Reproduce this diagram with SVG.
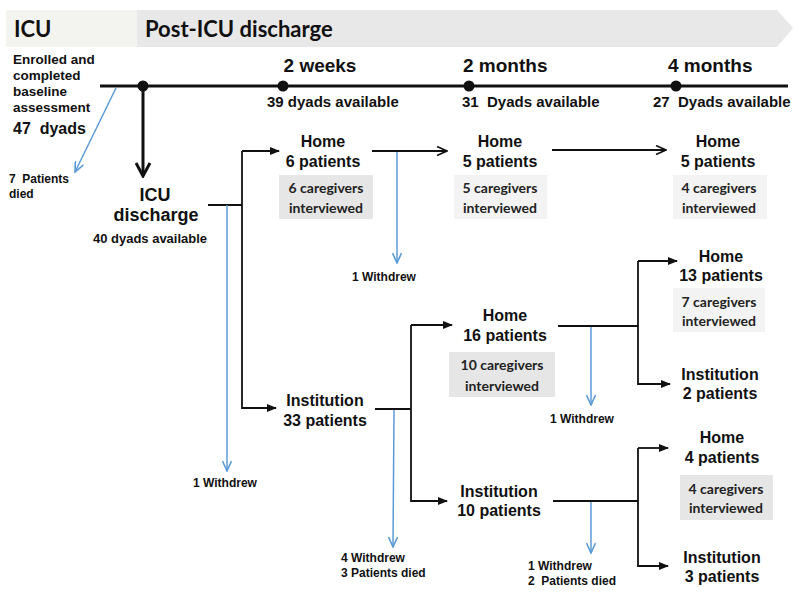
<svg xmlns="http://www.w3.org/2000/svg" width="800" height="601" viewBox="0 0 800 601">
<defs>
<marker id="tri" markerWidth="10" markerHeight="8" refX="9" refY="4" orient="auto" markerUnits="userSpaceOnUse">
<path d="M0,0 L10,4 L0,8 z" fill="#111"/>
</marker>
<marker id="vee" markerWidth="12" markerHeight="10" refX="11" refY="5" orient="auto" markerUnits="userSpaceOnUse">
<path d="M1,0.5 L11,5 L1,9.5" fill="none" stroke="#111" stroke-width="1.6"/>
</marker>
<marker id="bvee" markerWidth="12" markerHeight="10" refX="11" refY="5" orient="auto" markerUnits="userSpaceOnUse">
<path d="M1,0.5 L11,5 L1,9.5" fill="none" stroke="#5b9bd5" stroke-width="1.6"/>
</marker>
<marker id="big" markerWidth="16" markerHeight="16" refX="14" refY="8" orient="auto" markerUnits="userSpaceOnUse">
<path d="M1,1 L14,8 L1,15" fill="none" stroke="#111" stroke-width="3"/>
</marker>
</defs>
<style>
text{font-family:"Liberation Sans",Arial,sans-serif;font-weight:bold;fill:#111}
.cal{font-family:Lato,"Open Sans",sans-serif}
.n{font-size:16px;text-anchor:middle}
.s{font-size:12px}
.cg{font-family:Lato,"Open Sans",sans-serif;font-size:14px;text-anchor:middle;fill:#222}
.box{fill:#e6e6e6}
.lt{fill:#f3f3f3}
.k{stroke:#111;stroke-width:1.8;fill:none}
.b{stroke:#5b9bd5;stroke-width:1.5;fill:none}
</style>
<rect width="800" height="601" fill="#fff"/>
<g id="header">
<rect x="6" y="10" width="131" height="37" fill="#f3f3ef"/>
<path d="M137,10 L777,10 L793,28 L777,47 L137,47 z" fill="#e8e8e8"/>
<text class="cal" x="14" y="37" font-size="22">ICU</text>
<text class="cal" x="145" y="37" font-size="22">Post-ICU discharge</text>
</g>
<g id="timeline">
<line x1="100" y1="86" x2="788" y2="86" stroke="#111" stroke-width="3"/>
<circle cx="143" cy="86" r="5.5" fill="#111"/>
<circle cx="283" cy="86" r="5.5" fill="#111"/>
<circle cx="469" cy="86" r="5.5" fill="#111"/>
<circle cx="676" cy="86" r="5.5" fill="#111"/>
<text x="320" y="72" font-size="19" text-anchor="middle">2 weeks</text>
<text x="267" y="107" font-size="15">39 dyads available</text>
<text x="463" y="72" font-size="19">2 months</text>
<text x="462" y="107" font-size="15" xml:space="preserve">31  Dyads available</text>
<text x="668" y="72" font-size="19">4 months</text>
<text x="653" y="107" font-size="15" xml:space="preserve">27  Dyads available</text>
</g>
<g id="baseline">
<text x="13" y="64" font-size="13.5">Enrolled and</text>
<text x="13" y="80" font-size="13.5">completed</text>
<text x="13" y="96" font-size="13.5">baseline</text>
<text x="13" y="112" font-size="13.5">assessment</text>
<text x="13" y="134" font-size="16" xml:space="preserve">47  dyads</text>
</g>
<g id="died0">
<text class="s" x="9" y="183" xml:space="preserve">7  Patients</text>
<text class="s" x="9" y="198">died</text>
</g>
<g id="icu-discharge">
<text x="155" y="201" font-size="18" text-anchor="middle">ICU</text>
<text x="156" y="221" font-size="18" text-anchor="middle">discharge</text>
<text x="150" y="243" font-size="13" text-anchor="middle">40 dyads available</text>
</g>
<g id="home6">
<text class="n" x="323" y="147">Home</text>
<text class="n" x="323" y="167">6 patients</text>
<rect class="box" x="279" y="175" width="94" height="44"/>
<text class="cg" x="326" y="193">6 caregivers</text>
<text class="cg" x="326" y="213">interviewed</text>
</g>
<g id="withdrew1">
<text class="s" x="193" y="487">1 Withdrew</text>
</g>
<g id="withdrew2">
<text class="s" x="352" y="281">1 Withdrew</text>
</g>
<g id="home5a">
<text class="n" x="500" y="147">Home</text>
<text class="n" x="500" y="167">5 patients</text>
<rect class="lt" x="454" y="175" width="93" height="44"/>
<text class="cg" x="500" y="193">5 caregivers</text>
<text class="cg" x="500" y="213">interviewed</text>
</g>
<g id="home5b">
<text class="n" x="718" y="147">Home</text>
<text class="n" x="718" y="167">5 patients</text>
<rect class="lt" x="673" y="175" width="94" height="44"/>
<text class="cg" x="719" y="193">4 caregivers</text>
<text class="cg" x="719" y="213">interviewed</text>
</g>
<g id="inst33">
<text class="n" x="325" y="406">Institution</text>
<text class="n" x="325" y="426">33 patients</text>
</g>
<g id="withdrew3">
<text class="s" x="341" y="562">4 Withdrew</text>
<text class="s" x="341" y="577">3 Patients died</text>
</g>
<g id="home16">
<text class="n" x="505" y="321">Home</text>
<text class="n" x="505" y="341">16 patients</text>
<rect class="box" x="449" y="352" width="106" height="45"/>
<text class="cg" x="502" y="370">10 caregivers</text>
<text class="cg" x="502" y="391">interviewed</text>
</g>
<g id="withdrew4">
<text class="s" x="550" y="423">1 Withdrew</text>
</g>
<g id="inst10">
<text class="n" x="499" y="497">Institution</text>
<text class="n" x="499" y="516">10 patients</text>
</g>
<g id="withdrew5">
<text class="s" x="528" y="570">1 Withdrew</text>
<text class="s" x="528" y="585" xml:space="preserve">2  Patients died</text>
</g>
<g id="home13">
<text class="n" x="721" y="262">Home</text>
<text class="n" x="721" y="281">13 patients</text>
<rect class="lt" x="673" y="288" width="92" height="44"/>
<text class="cg" x="719" y="307">7 caregivers</text>
<text class="cg" x="719" y="326">interviewed</text>
</g>
<g id="inst2">
<text class="n" x="720" y="380">Institution</text>
<text class="n" x="720" y="399">2 patients</text>
</g>
<g id="home4">
<text class="n" x="722" y="443">Home</text>
<text class="n" x="722" y="463">4 patients</text>
<rect class="box" x="680" y="475" width="93" height="45"/>
<text class="cg" x="726" y="494">4 caregivers</text>
<text class="cg" x="726" y="513">interviewed</text>
</g>
<g id="inst3">
<text class="n" x="722" y="563">Institution</text>
<text class="n" x="722" y="582">3 patients</text>
</g>
<g id="connectors">
<line class="b" x1="116" y1="88" x2="75" y2="172" marker-end="url(#bvee)"/>
<line x1="143" y1="88" x2="143" y2="176" stroke="#111" stroke-width="3" marker-end="url(#big)"/>
<path class="k" d="M208,205 H242"/>
<path class="k" d="M242,151 V408 H276" marker-end="url(#tri)"/>
<path class="k" d="M242,151 H279" marker-end="url(#tri)"/>
<line class="b" x1="227" y1="205" x2="227" y2="471" marker-end="url(#bvee)"/>
<line class="k" x1="372" y1="151" x2="447" y2="151" marker-end="url(#vee)"/>
<line class="b" x1="397" y1="152" x2="397" y2="263" marker-end="url(#bvee)"/>
<line class="k" x1="552" y1="150" x2="666" y2="150" marker-end="url(#vee)"/>
<path class="k" d="M375,409 H411"/>
<path class="k" d="M411,325 V501 H447" marker-end="url(#tri)"/>
<path class="k" d="M411,325 H452" marker-end="url(#tri)"/>
<line class="b" x1="394" y1="410" x2="393" y2="547" marker-end="url(#bvee)"/>
<path class="k" d="M558,326 H638"/>
<path class="k" d="M638,261 V384 H670" marker-end="url(#tri)"/>
<path class="k" d="M638,261 H677" marker-end="url(#tri)"/>
<line class="b" x1="591" y1="327" x2="591" y2="405" marker-end="url(#bvee)"/>
<path class="k" d="M553,501 H638"/>
<path class="k" d="M638,448 V566 H668" marker-end="url(#tri)"/>
<path class="k" d="M638,448 H668" marker-end="url(#tri)"/>
<line class="b" x1="591" y1="502" x2="591" y2="553" marker-end="url(#bvee)"/>
</g>
</svg>
